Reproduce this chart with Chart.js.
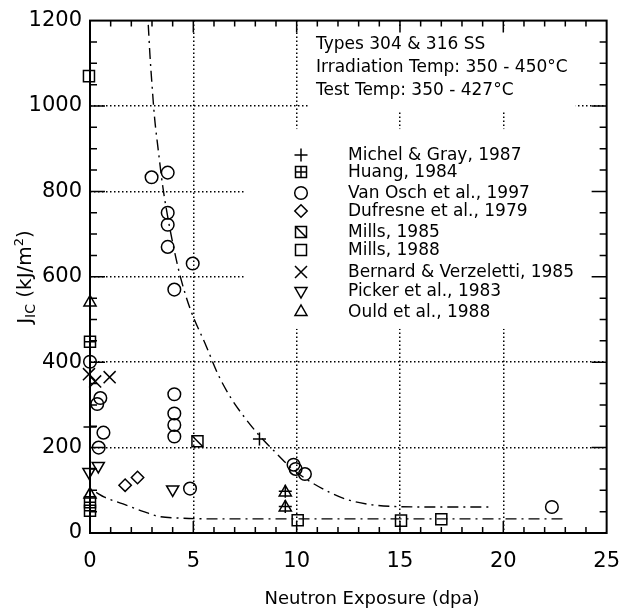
<!DOCTYPE html>
<html><head><meta charset="utf-8">
<script src="https://cdn.jsdelivr.net/npm/chart.js@4.4.1/dist/chart.umd.min.js"></script>
<style>html,body{margin:0;padding:0;background:#fff}canvas{display:block}</style>
</head><body>
<canvas id="c" width="636" height="613"></canvas>
<script>
// ---------- data ----------
const xTickLabels = ['0','5','10','15','20','25'];
const yTickLabels = ['0','200','400','600','800','1000','1200'];
const seriesNames = ['Michel & Gray, 1987','Huang, 1984','Van Osch et al., 1997','Dufresne et al., 1979',
  'Mills, 1985','Mills, 1988','Bernard & Verzeletti, 1985','Picker et al., 1983','Ould et al., 1988'];
const noteLines = ['Types 304 & 316 SS','Irradiation Temp: 350 - 450°C','Test Temp: 350 - 427°C'];
const xTitle = 'Neutron Exposure (dpa)';

const michelGray = [{x:8.2,y:220},{x:0,y:248},{x:9.45,y:98},{x:9.45,y:62}];
const huang = [{x:0,y:448},{x:0,y:72},{x:0,y:52}];
const vanOsch = [{x:2.98,y:833},{x:3.76,y:844},{x:3.76,y:750},{x:3.76,y:722},{x:3.76,y:670},
  {x:4.08,y:570},{x:4.97,y:631},{x:4.08,y:325},{x:4.08,y:280},{x:4.08,y:253},{x:4.08,y:226},
  {x:4.84,y:104},{x:9.85,y:160},{x:9.95,y:150},{x:10.4,y:138},{x:22.35,y:61},
  {x:0,y:401},{x:0.5,y:316},{x:0.35,y:302},{x:0.65,y:235},{x:0.42,y:200}];
const dufresne = [{x:1.7,y:112},{x:2.3,y:130}];
const mills1985 = [{x:5.2,y:215}];
const mills1988 = [{x:-0.05,y:1070},{x:10.05,y:30},{x:15.05,y:29},{x:17,y:32}];
const bernard = [{x:-0.05,y:372},{x:0.25,y:355},{x:0.95,y:365}];
const picker = [{x:-0.05,y:143},{x:0.4,y:157},{x:4.0,y:102}];
const ould = [{x:0,y:540},{x:0,y:90},{x:9.45,y:95},{x:9.45,y:60}];

const upperCurve = [{x:2.82,y:1190},{x:2.9,y:1120},{x:3.0,y:1050},{x:3.12,y:975},{x:3.3,y:898},
  {x:3.52,y:812},{x:3.8,y:730},{x:4.13,y:650},{x:4.4,y:595},{x:4.84,y:526},{x:5.63,y:437},
  {x:6.19,y:372},{x:6.81,y:317},{x:7.46,y:272},{x:8.2,y:228},{x:8.89,y:193},{x:9.8,y:150},
  {x:10.7,y:119},{x:11.57,y:96},{x:12.4,y:79},{x:13.65,y:66},{x:14.76,y:62},{x:16.3,y:61},
  {x:17.9,y:61},{x:19.3,y:61}];
const lowerCurve = [{x:0.3,y:95},{x:0.7,y:84},{x:1.6,y:68},{x:2.6,y:50},{x:3.3,y:39},{x:4.3,y:35},
  {x:6,y:33},{x:10,y:33},{x:15,y:33},{x:20,y:33},{x:23,y:33}];

// ---------- marker styles ----------
const markerTypes = ['plus','sqplus','circle','diamond','sqdiag','square','x','tridown','triup'];
const markerLayers = [
  [{s:'cross', r:6.5}],
  [{s:'rect', r:7.8}, {s:'cross', r:5.5}],
  [{s:'circle', r:6.3}],
  [{s:'rectRot', r:6.2}],
  [{s:'rect', r:7.8}, {s:'line', r:7.8, rot:45}],
  [{s:'rect', r:7.8}],
  [{s:'crossRot', r:8.5}],
  [{s:'triangle', r:7, rot:180}],
  [{s:'triangle', r:7}]
];

function drawMarker(ctx, type, x, y) {
  ctx.save();
  ctx.strokeStyle = '#000'; ctx.lineWidth = 1.5;
  ctx.beginPath();
  switch (type) {
    case 'plus': ctx.moveTo(x-6.5,y); ctx.lineTo(x+6.5,y); ctx.moveTo(x,y-6.5); ctx.lineTo(x,y+6.5); break;
    case 'sqplus': ctx.rect(x-5.5,y-5.5,11,11); ctx.moveTo(x-5.5,y); ctx.lineTo(x+5.5,y); ctx.moveTo(x,y-5.5); ctx.lineTo(x,y+5.5); break;
    case 'circle': ctx.arc(x,y,6.3,0,Math.PI*2); break;
    case 'diamond': ctx.moveTo(x,y-6.2); ctx.lineTo(x+6.2,y); ctx.lineTo(x,y+6.2); ctx.lineTo(x-6.2,y); ctx.closePath(); break;
    case 'sqdiag': ctx.rect(x-5.5,y-5.5,11,11); ctx.moveTo(x-5.5,y-5.5); ctx.lineTo(x+5.5,y+5.5); break;
    case 'square': ctx.rect(x-5.5,y-5.5,11,11); break;
    case 'x': ctx.moveTo(x-6,y-6); ctx.lineTo(x+6,y+6); ctx.moveTo(x+6,y-6); ctx.lineTo(x-6,y+6); break;
    case 'tridown': ctx.moveTo(x-6,y-3.5); ctx.lineTo(x+6,y-3.5); ctx.lineTo(x,y+7); ctx.closePath(); break;
    case 'triup': ctx.moveTo(x-6,y+3.5); ctx.lineTo(x+6,y+3.5); ctx.lineTo(x,y-7); ctx.closePath(); break;
  }
  ctx.stroke();
  ctx.restore();
}

const seriesData = [michelGray, huang, vanOsch, dufresne, mills1985, mills1988, bernard, picker, ould];
const datasets = [];
seriesData.forEach((d, i) => {
  markerLayers[i].forEach((m, k) => datasets.push({
    label: seriesNames[i], data: d, pointStyle: m.s, pointRadius: m.r, pointRotation: m.rot || 0,
    pointBorderColor: '#000', pointBackgroundColor: 'rgba(0,0,0,0)', pointBorderWidth: 1.5,
    showLine: false, clip: false, legendIndex: k === 0 ? i : -1
  }));
});
[upperCurve, lowerCurve].forEach((d, i) => datasets.push({
  label: 'fit' + i, data: d, showLine: true, pointRadius: 0, borderColor: '#000', borderWidth: 1.4,
  borderDash: [11,5,2,5], cubicInterpolationMode: 'monotone', fill: false, legendIndex: -1
}));

// ---------- layout plugin ----------
const boxes = [{x0:10.55,x1:23.5,y0:989,y1:1182},{x0:7.5,x1:25,y0:478,y1:946}];
const legendRows = [155,172,193,211,232,250,272,291,312];
const decor = {
  id: 'decor',
  beforeDatasetsDraw(chart) {
    const ctx = chart.ctx, xs = chart.scales.x, ys = chart.scales.y, a = chart.chartArea;
    ctx.save();
    ctx.fillStyle = '#fff';
    boxes.forEach(b => {
      const x0 = xs.getPixelForValue(b.x0), x1 = xs.getPixelForValue(b.x1);
      const y0 = ys.getPixelForValue(b.y1), y1 = ys.getPixelForValue(b.y0);
      ctx.fillRect(x0, y0, x1 - x0, y1 - y0);
    });
    ctx.strokeStyle = '#000'; ctx.lineWidth = 1.5;
    ctx.beginPath();
    for (let v = 1; v < 25; v++) {
      const p = xs.getPixelForValue(v), L = v % 5 === 0 ? 12 : 6;
      ctx.moveTo(p, a.bottom); ctx.lineTo(p, a.bottom - L);
      ctx.moveTo(p, a.top); ctx.lineTo(p, a.top + L);
    }
    for (let v = 50; v < 1200; v += 50) {
      const p = ys.getPixelForValue(v), L = v % 200 === 0 ? 15 : 7;
      ctx.moveTo(a.left, p); ctx.lineTo(a.left + L, p);
      ctx.moveTo(a.right, p); ctx.lineTo(a.right - L, p);
    }
    ctx.stroke();
    ctx.lineWidth = 2;
    ctx.strokeRect(a.left, a.top, a.right - a.left, a.bottom - a.top);
    ctx.fillStyle = '#000';
    ctx.font = '17px "DejaVu Sans"';
    ctx.textBaseline = 'middle'; ctx.textAlign = 'left';
    noteLines.forEach((t, i) => ctx.fillText(t, 316, 45 + i * 23));
    chart.data.datasets.forEach(ds => {
      if (ds.legendIndex < 0) return;
      const i = ds.legendIndex;
      drawMarker(ctx, markerTypes[i], 301, legendRows[i]);
      ctx.fillText(ds.label, 348, legendRows[i] + 1);
    });
    ctx.restore();
  },
  afterDraw(chart) {
    const ctx = chart.ctx;
    ctx.save();
    ctx.fillStyle = '#000';
    ctx.font = '18px "DejaVu Sans"';
    ctx.textAlign = 'center'; ctx.textBaseline = 'middle';
    ctx.fillText(xTitle, 372, 599);
    ctx.translate(31, 277); ctx.rotate(-Math.PI / 2);
    ctx.textAlign = 'left'; ctx.textBaseline = 'alphabetic';
    const parts = [['J','20px',0],['IC','14px',4],[' (kJ/m','20px',0],['2','13px',-8],[')','20px',0]];
    let w = 0;
    parts.forEach(p => { ctx.font = p[1] + ' "DejaVu Sans"'; w += ctx.measureText(p[0]).width; });
    let x = -w / 2;
    parts.forEach(p => { ctx.font = p[1] + ' "DejaVu Sans"'; ctx.fillText(p[0], x, p[2]); x += ctx.measureText(p[0]).width; });
    ctx.restore();
  }
};

const gridColor = (max) => (c) => (c.tick && (c.tick.value === 0 || c.tick.value === max)) ? 'rgba(0,0,0,0)' : '#000';

new Chart(document.getElementById('c'), {
  type: 'scatter',
  data: { datasets },
  options: {
    responsive: false, animation: false, devicePixelRatio: 1,
    layout: { padding: { top: 18, right: 23, left: 0, bottom: 0 } },
    plugins: { legend: { display: false }, tooltip: { enabled: false } },
    scales: {
      x: {
        type: 'linear', min: 0, max: 25,
        afterFit: s => { s.height = 80; },
        ticks: { stepSize: 5, color: '#000', font: { size: 21, family: 'DejaVu Sans' }, padding: 16,
          callback: (v) => xTickLabels[Math.round(v / 5)] },
        grid: { color: gridColor(25), lineWidth: 1.5, drawTicks: false },
        border: { display: false, dash: [1.5, 2.5] }
      },
      y: {
        type: 'linear', min: 0, max: 1200,
        afterFit: s => { s.width = 90; },
        ticks: { stepSize: 200, color: '#000', font: { size: 21, family: 'DejaVu Sans' }, padding: 8,
          callback: (v) => yTickLabels[Math.round(v / 200)] },
        grid: { color: gridColor(1200), lineWidth: 1.5, drawTicks: false },
        border: { display: false, dash: [1.5, 2.5] }
      }
    }
  },
  plugins: [decor]
});
</script>
</body></html>
